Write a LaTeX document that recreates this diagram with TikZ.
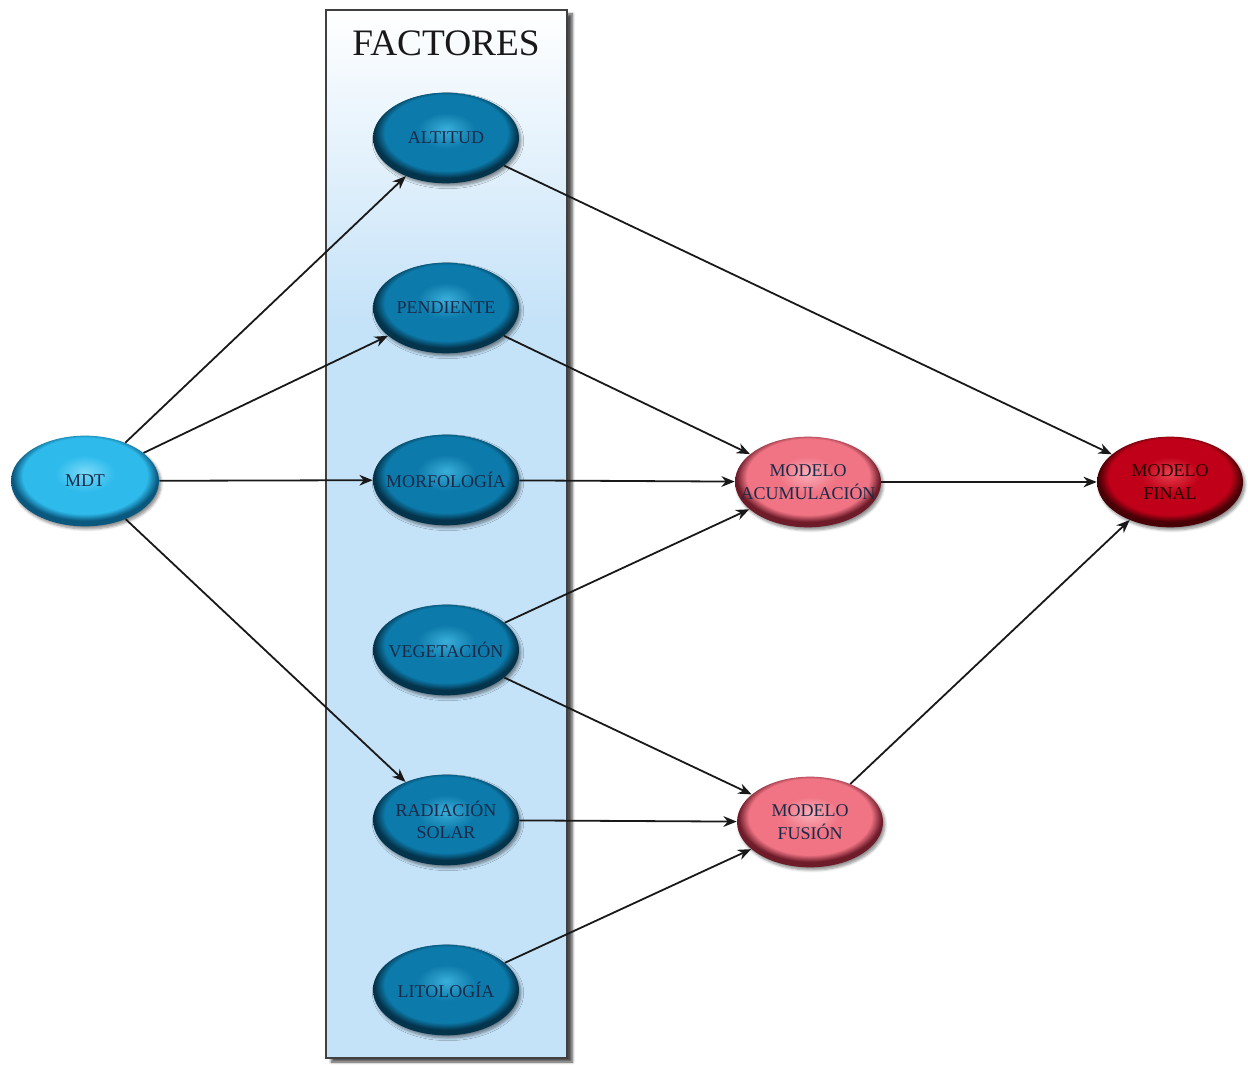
\documentclass[tikz,border=0pt]{standalone}
\usepackage{fontspec}
\setmainfont{Liberation Serif}
\usetikzlibrary{shapes.geometric,arrows.meta,shadows.blur}
\definecolor{facA}{HTML}{3AAEDB}
\definecolor{facB}{HTML}{0C7AAA}
\definecolor{facC}{HTML}{04344C}
\definecolor{mdtA}{HTML}{7AD9F8}
\definecolor{mdtB}{HTML}{2EBBEC}
\definecolor{mdtC}{HTML}{0A587E}
\definecolor{pnkA}{HTML}{FBB0BA}
\definecolor{pnkB}{HTML}{F07484}
\definecolor{pnkC}{HTML}{6E1C2A}
\definecolor{redA}{HTML}{E8404E}
\definecolor{redB}{HTML}{C00018}
\definecolor{redC}{HTML}{480006}
\definecolor{boxblue}{HTML}{C4E2F8}
\definecolor{navy}{HTML}{1B2A48}
\pgfdeclareradialshading{facsh}{\pgfpoint{0bp}{5bp}}{color(0bp)=(facA); color(10bp)=(facB); color(21bp)=(facB); color(24.5bp)=(facC); color(25bp)=(facC); color(50bp)=(facC)}
\pgfdeclareradialshading{mdtsh}{\pgfpoint{0bp}{5bp}}{color(0bp)=(mdtA); color(10bp)=(mdtB); color(21bp)=(mdtB); color(24.5bp)=(mdtC); color(25bp)=(mdtC); color(50bp)=(mdtC)}
\pgfdeclareradialshading{pnksh}{\pgfpoint{0bp}{5bp}}{color(0bp)=(pnkA); color(10bp)=(pnkB); color(21bp)=(pnkB); color(24.5bp)=(pnkC); color(25bp)=(pnkC); color(50bp)=(pnkC)}
\pgfdeclareradialshading{redsh}{\pgfpoint{0bp}{5bp}}{color(0bp)=(redA); color(10bp)=(redB); color(21bp)=(redB); color(24.5bp)=(redC); color(25bp)=(redC); color(50bp)=(redC)}
\pgfdeclareverticalshading{boxsh}{100bp}{color(0bp)=(boxblue); color(60bp)=(boxblue); color(75bp)=(white); color(100bp)=(white)}
\tikzset{
  ellbase/.style={ellipse, minimum width=109.5pt, minimum height=68pt, inner sep=0pt,
    blur shadow={shadow xshift=1.5pt, shadow yshift=-2pt, shadow blur steps=5, shadow blur radius=2pt, shadow opacity=45}},
  fac/.style={ellbase, shading=facsh},
  mdt/.style={ellbase, shading=mdtsh, minimum width=111pt},
  pnk/.style={ellbase, shading=pnksh},
  red/.style={ellbase, shading=redsh},
  lbl/.style={text=navy, align=center, font=\fontsize{13.5}{17}\selectfont, inner sep=0pt},
  conn/.style={draw=black!90, line width=1.35pt, -{Stealth[length=10pt,width=8pt]}},
}
\begin{document}
\begin{tikzpicture}[x=0.75pt,y=0.75pt]
\useasboundingbox (0,0) rectangle (1248,1064);
\node[draw=black!75, line width=0.8pt, shading=boxsh, minimum width=180.75pt, minimum height=786pt, inner sep=0pt,
  blur shadow={shadow xshift=4pt, shadow yshift=-3pt, shadow blur steps=6, shadow blur radius=2pt, shadow opacity=70}]
  (fbox) at (446.5,530) {};
\node[font=\fontsize{28}{32}\selectfont, text=black!90] (title) at (446,1021) {FACTORES};

\node[mdt, label={[lbl]center:MDT}] (mdt) at (85,583) {};
\node[fac, label={[lbl]center:ALTITUD}] (alt) at (446,926) {};
\node[fac, label={[lbl]center:PENDIENTE}] (pen) at (446,756) {};
\node[fac, label={[lbl]center:MORFOLOGÍA}] (mor) at (446,584) {};
\node[fac, label={[lbl]center:VEGETACIÓN}] (veg) at (446,414) {};
\node[fac, label={[lbl]center:RADIACIÓN\\SOLAR}] (rad) at (446,244) {};
\node[fac, label={[lbl]center:LITOLOGÍA}] (lit) at (446,74) {};
\node[pnk, label={[lbl]center:MODELO\\ACUMULACIÓN}] (acu) at (808,582) {};
\node[pnk, label={[lbl]center:MODELO\\FUSIÓN}] (fus) at (810,242) {};
\node[red, label={[lbl, text=black!85!red]center:MODELO\\FINAL}] (fin) at (1170,582) {};

\draw[conn] (mdt) -- (alt);
\draw[conn] (mdt) -- (pen);
\draw[conn] (mdt) -- (mor);
\draw[conn] (mdt) -- (rad);
\draw[conn] (alt) -- (fin);
\draw[conn] (pen) -- (acu);
\draw[conn] (mor) -- (acu);
\draw[conn] (veg) -- (acu);
\draw[conn] (veg) -- (fus);
\draw[conn] (rad) -- (fus);
\draw[conn] (lit) -- (fus);
\draw[conn] (acu) -- (fin);
\draw[conn] (fus) -- (fin);
\end{tikzpicture}
\end{document}
